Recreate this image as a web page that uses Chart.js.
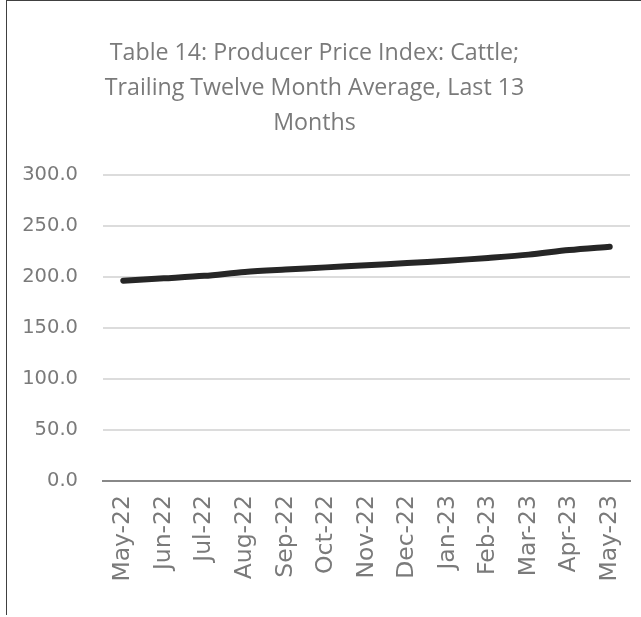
<!DOCTYPE html>
<html>
<head>
<meta charset="utf-8">
<script src="https://cdn.jsdelivr.net/npm/chart.js@4"></script>
<style>
  body { margin: 0; background: #fff; }
  #box { position: absolute; left: 6px; top: 0; width: 635px; height: 614px;
         border-left: 1px solid #404040; border-top: 1px solid #404040; }
  canvas { display: block; }
</style>
</head>
<body>
<div id="box"><canvas id="chart" width="634" height="613"></canvas></div>
<script>
const months = ["May-22","Jun-22","Jul-22","Aug-22","Sep-22","Oct-22","Nov-22","Dec-22","Jan-23","Feb-23","Mar-23","Apr-23","May-23"];
const ppiCattle = [196.5, 198.8, 201.2, 205.0, 207.4, 209.5, 211.5, 213.8, 216.0, 218.8, 222.0, 226.5, 229.8];
const yTicks = [0, 50, 100, 150, 200, 250, 300];

// the title sits a little left of the canvas centre in the original
const shiftTitle = {
    id: "shiftTitle",
    afterLayout(chart) {
        if (chart.titleBlock) {
            chart.titleBlock.left -= 11;
            chart.titleBlock.right -= 11;
        }
    }
};

const ctx = document.getElementById("chart").getContext("2d");
new Chart(ctx, {
    type: "line",
    data: {
        labels: months,
        datasets: [{
            label: "PPI Cattle",
            data: ppiCattle,
            borderColor: "#262626",
            borderWidth: 6,
            borderCapStyle: "round",
            borderJoinStyle: "round",
            pointRadius: 0,
            tension: 0.3,
            fill: false
        }]
    },
    options: {
        responsive: false,
        animation: false,
        layout: { padding: { left: 14, right: 11, top: 35, bottom: 0 } },
        plugins: {
            legend: { display: false },
            tooltip: { enabled: false },
            title: {
                display: true,
                text: ["Table 14: Producer Price Index: Cattle;", "Trailing Twelve Month Average, Last 13", "Months"],
                color: "#7a7a7a",
                font: { family: "Open Sans", size: 23.2, weight: "normal", lineHeight: 1.51 },
                padding: { top: 0, bottom: 34 }
            }
        },
        scales: {
            x: {
                offset: true,
                afterFit: axis => {
                    axis.height = 133;
                    axis.paddingLeft = 0;
                    axis.paddingRight = 0;
                },
                grid: { display: false, drawTicks: false },
                border: { color: "#888888", width: 2 },
                ticks: {
                    color: "#7a7a7a",
                    font: { family: "DejaVu Sans", size: 23.5 },
                    maxRotation: 90,
                    minRotation: 90,
                    padding: 14
                }
            },
            y: {
                min: 0,
                max: 300,
                afterBuildTicks: axis => { axis.ticks = yTicks.map(v => ({ value: v })); },
                afterFit: axis => { axis.width = 82; },
                grid: { color: "#dcdcdc", lineWidth: 2, drawTicks: false },
                border: { display: false },
                ticks: {
                    color: "#7a7a7a",
                    font: { family: "DejaVu Sans", size: 19.5 },
                    padding: 25,
                    callback: v => v.toFixed(1)
                }
            }
        }
    },
    plugins: [shiftTitle]
});
</script>
</body>
</html>
